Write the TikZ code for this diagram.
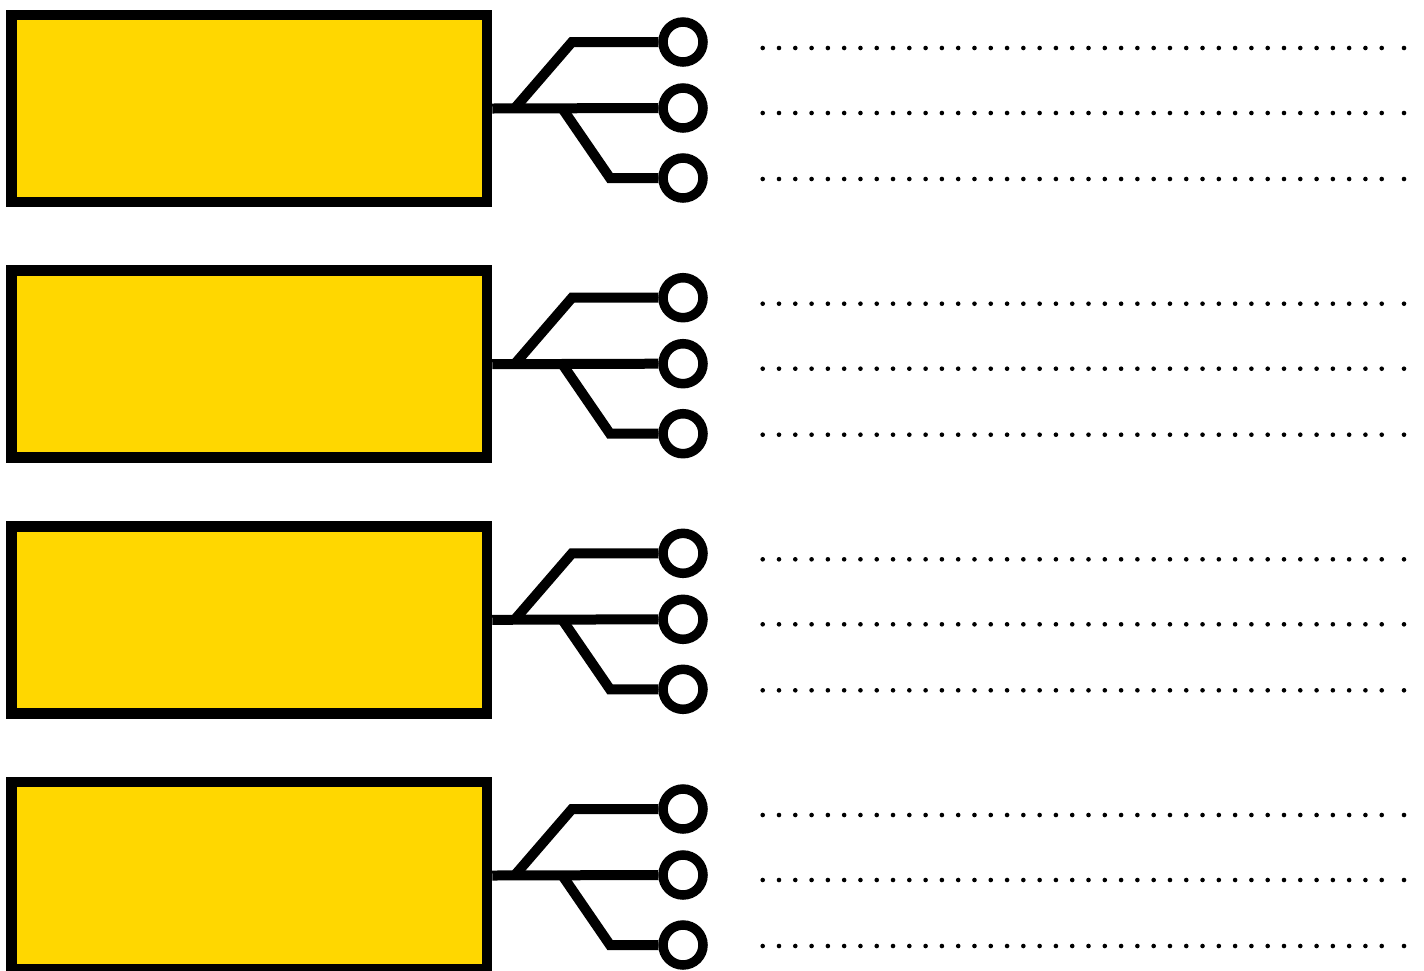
\documentclass[tikz,border=0pt]{standalone}
\definecolor{boxyellow}{RGB}{255,215,0}
\begin{document}
\begin{tikzpicture}[x=1pt,y=-1pt,
  yellowbox/.style={draw=black,fill=boxyellow,line width=10.5pt,inner sep=0pt,
    minimum width=475.5pt,minimum height=187pt,rectangle},
  port/.style={draw=black,fill=white,line width=9.5pt,circle,inner sep=0pt,minimum size=40pt},
  wire/.style={draw=black,line width=10pt,line join=miter},
  dotrow/.style={draw=black,line width=4.6pt,line cap=round,dash pattern=on 0pt off 16.29pt},
  enddot/.style={fill=black}]
\useasboundingbox (0,0) rectangle (1424,970);
\foreach \g/\off in {1/0,2/255.7,3/511.3,4/767}{
  \node[yellowbox] (b\g) at (249.25,108.5+\off) {};
  \node[port] (c\g a) at (683,42+\off) {};
  \node[port] (c\g b) at (683,108+\off) {};
  \node[port] (c\g c) at (683,178+\off) {};
  \coordinate (j\g a) at (515,108+\off);
  \coordinate (k\g a) at (572,42+\off);
  \coordinate (j\g c) at (562,108+\off);
  \coordinate (k\g c) at (610,178+\off);
  \draw[wire] (b\g.east) -- (c\g b.west);
  \draw[wire] (j\g a) -- (k\g a) -- (c\g a.west);
  \draw[wire] (j\g c) -- (k\g c) -- (c\g c.west);
  \foreach \r/\yy in {a/48,b/113,c/179}{
    \coordinate (s\g\r) at (762.7,\yy+\off);
    \coordinate (e\g\r) at (1383,\yy+\off);
    \coordinate (f\g\r) at (1404,\yy+\off);
    \draw[dotrow] (s\g\r) -- (e\g\r);
    \fill[enddot] (f\g\r) circle (2.3);
  }
}
\end{tikzpicture}
\end{document}
